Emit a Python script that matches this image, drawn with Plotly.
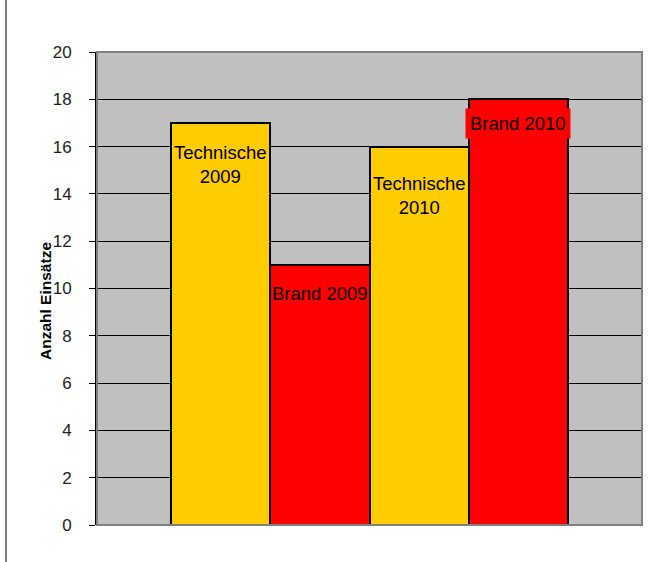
import plotly.graph_objects as go

# Einsätze nach Art und Jahr
kategorien = ["Technische<br>2009", "Brand 2009", "Technische<br>2010", "Brand 2010"]
einsaetze = [17, 11, 16, 18]
farben = ["#FFCC00", "#FF0000", "#FFCC00", "#FF0000"]
y_ticks = list(range(0, 21, 2))
y_titel = "Anzahl Einsätze"

# vertical label offsets below each bar top (px) and label background
label_shift = [-42, -29, -49, -24]
label_bg = [None, None, None, "#FF0000"]

W, H = 656, 562
L, R, T, B = 97, 14, 52, 37
PW, PH = W - L - R, H - T - B

xs = list(range(len(einsaetze)))

fig = go.Figure(
    go.Bar(
        x=xs,
        y=einsaetze,
        width=1,
        marker=dict(color=farben, line=dict(color="black", width=2)),
        hoverinfo="skip",
    )
)

for i, (txt, val) in enumerate(zip(kategorien, einsaetze)):
    ann = dict(
        x=i, y=val, xref="x", yref="y", text=txt, showarrow=False,
        yshift=label_shift[i], yanchor="middle",
        font=dict(family="Liberation Sans, Arial", size=18.5, color="black"),
    )
    if label_bg[i]:
        ann.update(bgcolor=label_bg[i], borderpad=4)
    fig.add_annotation(**ann)

# axis title, placed beside the tick labels
fig.add_annotation(
    text=f"<b>{y_titel}</b>", textangle=-90, showarrow=False,
    xref="paper", yref="paper",
    x=(45 - L) / PW, y=(H - B - 301) / PH,
    xanchor="center", yanchor="middle",
    font=dict(family="Liberation Sans, Arial", size=15.5, color="black"),
)

# plot area frame and left border line
fig.add_shape(type="rect", xref="paper", yref="paper", x0=0, x1=1, y0=0, y1=1,
              line=dict(color="#808080", width=2), layer="above")
fig.add_shape(type="line", xref="paper", yref="paper",
              x0=(6 - L) / PW, x1=(6 - L) / PW,
              y0=(H - B) / PH, y1=-B / PH,
              line=dict(color="black", width=1))

fig.update_layout(
    width=W, height=H,
    margin=dict(l=L, r=R, t=T, b=B, pad=0),
    paper_bgcolor="white",
    plot_bgcolor="#C0C0C0",
    bargap=0,
    showlegend=False,
    font=dict(family="Liberation Sans, Arial", color="#222222"),
    xaxis=dict(
        range=[-1.2456, 4.2456],
        showticklabels=False, ticks="", showgrid=False, zeroline=False,
        fixedrange=True,
    ),
    yaxis=dict(
        range=[0, 20],
        tickvals=y_ticks,
        ticks="outside", ticklen=6, tickcolor="black", tickwidth=1,
        ticklabelstandoff=14,
        tickfont=dict(size=17, color="#222222"),
        showgrid=True, gridcolor="black", gridwidth=1,
        zeroline=False,
        showline=True, linecolor="black", linewidth=2,
        fixedrange=True,
    ),
)

fig.write_html("out.html")
